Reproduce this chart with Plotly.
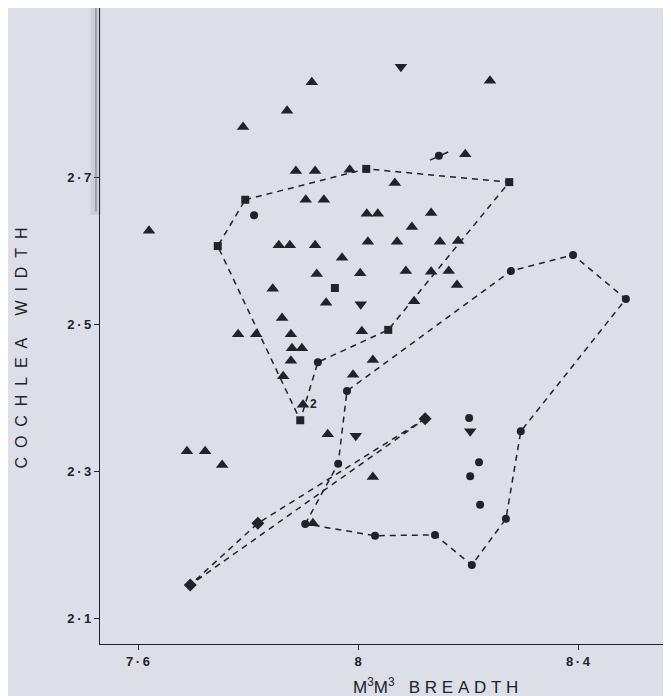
import plotly.graph_objects as go

# ---- data (M3M3 breadth vs cochlea width) ----
tri_x = [7.916, 7.871, 7.791, 8.240, 7.887, 7.922, 7.985, 8.067, 8.195, 7.905,
         7.938, 8.016, 8.036, 8.133, 8.098, 7.620, 7.856, 7.876, 7.922, 8.018,
         8.071, 8.149, 8.182, 7.971, 7.925, 8.004, 8.087, 8.133, 8.165, 8.180,
         7.845, 7.942, 8.102, 7.862, 7.782, 7.815, 7.878, 8.007, 7.880, 7.898,
         7.878, 8.027, 7.991, 7.864, 7.900, 7.945, 7.689, 7.722, 7.753, 8.027,
         7.918]
tri_y = [2.829, 2.790, 2.768, 2.831, 2.708, 2.708, 2.710, 2.692, 2.731, 2.669,
         2.669, 2.650, 2.650, 2.651, 2.632, 2.627, 2.607, 2.607, 2.607, 2.612,
         2.612, 2.612, 2.613, 2.590, 2.568, 2.569, 2.572, 2.571, 2.572, 2.553,
         2.548, 2.529, 2.531, 2.508, 2.486, 2.486, 2.486, 2.490, 2.467, 2.467,
         2.450, 2.451, 2.431, 2.429, 2.390, 2.350, 2.327, 2.327, 2.308, 2.292,
         2.229]

inv_x = [8.078, 8.005, 7.996, 8.204]
inv_y = [2.850, 2.527, 2.348, 2.354]

sq_x = [7.795, 8.015, 8.275, 7.745, 7.958, 8.055, 7.895]
sq_y = [2.669, 2.711, 2.693, 2.606, 2.549, 2.492, 2.369]

circ_x = [7.811, 8.147, 7.927, 7.980, 7.964, 8.278, 8.391, 8.487, 8.296,
          8.202, 8.220, 8.204, 8.222, 8.269, 8.207, 8.140, 8.031, 7.904]
circ_y = [2.648, 2.729, 2.448, 2.409, 2.310, 2.572, 2.594, 2.534, 2.354,
          2.372, 2.312, 2.293, 2.254, 2.235, 2.172, 2.213, 2.212, 2.228]

dia_x = [8.122, 7.818, 7.695]
dia_y = [2.371, 2.229, 2.145]

# hull outlines
sq_hull_x = [7.795, 8.015, 8.275, 8.055, 7.927, 7.895, 7.745, 7.795]
sq_hull_y = [2.669, 2.711, 2.693, 2.492, 2.448, 2.369, 2.606, 2.669]

circ_hull_x = [7.904, 7.964, 7.980, 8.278, 8.391, 8.487, 8.296, 8.269,
               8.207, 8.140, 8.031, 7.904]
circ_hull_y = [2.228, 2.310, 2.409, 2.572, 2.594, 2.534, 2.354, 2.235,
               2.172, 2.213, 2.212, 2.228]

dia_hull_x = [8.122, 7.818, 7.695, 8.122]
dia_hull_y = [2.371, 2.229, 2.145, 2.371]

pair_mark_x = [8.131, 8.164]
pair_mark_y = [2.723, 2.734]

count_label = {"x": 7.900, "y": 2.390, "text": "2"}

x_ticks = [7.6, 8.0, 8.4]
x_ticktext = ["7\u2009·\u20096", "8", "8\u2009·\u20094"]
y_ticks = [2.1, 2.3, 2.5, 2.7]
y_ticktext = ["2\u2009·\u20091", "2\u2009·\u20093", "2\u2009·\u20095", "2\u2009·\u20097"]

INK = "#222229"
BG = "#dcdfe7"
FONT = "Liberation Sans, Arial, sans-serif"

fig = go.Figure()

line_style = dict(color=INK, width=1.5, dash="6px,5px")
for hx, hy in [(sq_hull_x, sq_hull_y), (circ_hull_x, circ_hull_y), (dia_hull_x, dia_hull_y)]:
    fig.add_trace(go.Scatter(x=hx, y=hy, mode="lines", line=line_style,
                             hoverinfo="skip", showlegend=False))

fig.add_trace(go.Scatter(x=pair_mark_x, y=pair_mark_y, mode="lines",
                         line=dict(color=INK, width=1.5), showlegend=False))

fig.add_trace(go.Scatter(x=tri_x, y=tri_y, mode="markers",
                         marker=dict(symbol="triangle-up", size=11, color=INK),
                         showlegend=False))
fig.add_trace(go.Scatter(x=inv_x, y=inv_y, mode="markers",
                         marker=dict(symbol="triangle-down", size=11, color=INK),
                         showlegend=False))
fig.add_trace(go.Scatter(x=sq_x, y=sq_y, mode="markers",
                         marker=dict(symbol="square", size=8, color=INK),
                         showlegend=False))
fig.add_trace(go.Scatter(x=circ_x, y=circ_y, mode="markers",
                         marker=dict(symbol="circle", size=8, color=INK),
                         showlegend=False))
fig.add_trace(go.Scatter(x=dia_x, y=dia_y, mode="markers",
                         marker=dict(symbol="diamond", size=10, color=INK),
                         showlegend=False))

fig.add_annotation(x=count_label["x"], y=count_label["y"], text=count_label["text"],
                   showarrow=False, xshift=10, yshift=1,
                   font=dict(family=FONT, size=12, color=INK, weight="bold"))

# axis titles
nb = "\u00a0"
xtitle = "M<sup>3</sup>M<sup>3</sup>" + nb * 3 + (nb).join("BREADTH")
ytitle = (nb * 2).join("COCHLEA") + nb * 5 + (nb * 2).join("WIDTH")
fig.add_annotation(xref="paper", yref="paper", x=0.58, y=-0.066, text=xtitle,
                   showarrow=False, xanchor="center", yanchor="middle",
                   font=dict(family=FONT, size=17, color=INK))
fig.add_annotation(xref="paper", yref="paper", x=-0.135, y=0.466, text=ytitle,
                   showarrow=False, textangle=-90, xanchor="center", yanchor="middle",
                   font=dict(family=FONT, size=16, color=INK))

# photographic strip at top of the y axis
fig.add_shape(type="rect", xref="paper", yref="paper", x0=-0.016, x1=0.002,
              y0=0.675, y1=1.0, fillcolor="rgba(160,165,176,0.28)", line_width=0,
              layer="below")
fig.add_shape(type="line", xref="paper", yref="paper", x0=-0.007, x1=-0.007,
              y0=0.68, y1=1.0, line=dict(color="rgba(110,114,124,0.5)", width=2))

fig.update_layout(
    width=671, height=696,
    margin=dict(l=92, r=0, t=0, b=60),
    paper_bgcolor=BG, plot_bgcolor=BG,
    font=dict(family=FONT, color=INK),
    xaxis=dict(range=[7.53091, 8.58364], tickvals=x_ticks, ticktext=x_ticktext,
               showgrid=False, zeroline=False, showline=True, linecolor=INK,
               linewidth=1.2, ticks="outside", ticklen=5, tickcolor=INK,
               tickfont=dict(family=FONT, size=13, color=INK, weight="bold")),
    yaxis=dict(range=[2.06463, 2.92993], tickvals=y_ticks, ticktext=y_ticktext,
               showgrid=False, zeroline=False, showline=True, linecolor=INK,
               linewidth=1.2, ticks="outside", ticklen=5, tickcolor=INK,
               tickfont=dict(family=FONT, size=13, color=INK, weight="bold")),
)

fig.write_html("out.html")
